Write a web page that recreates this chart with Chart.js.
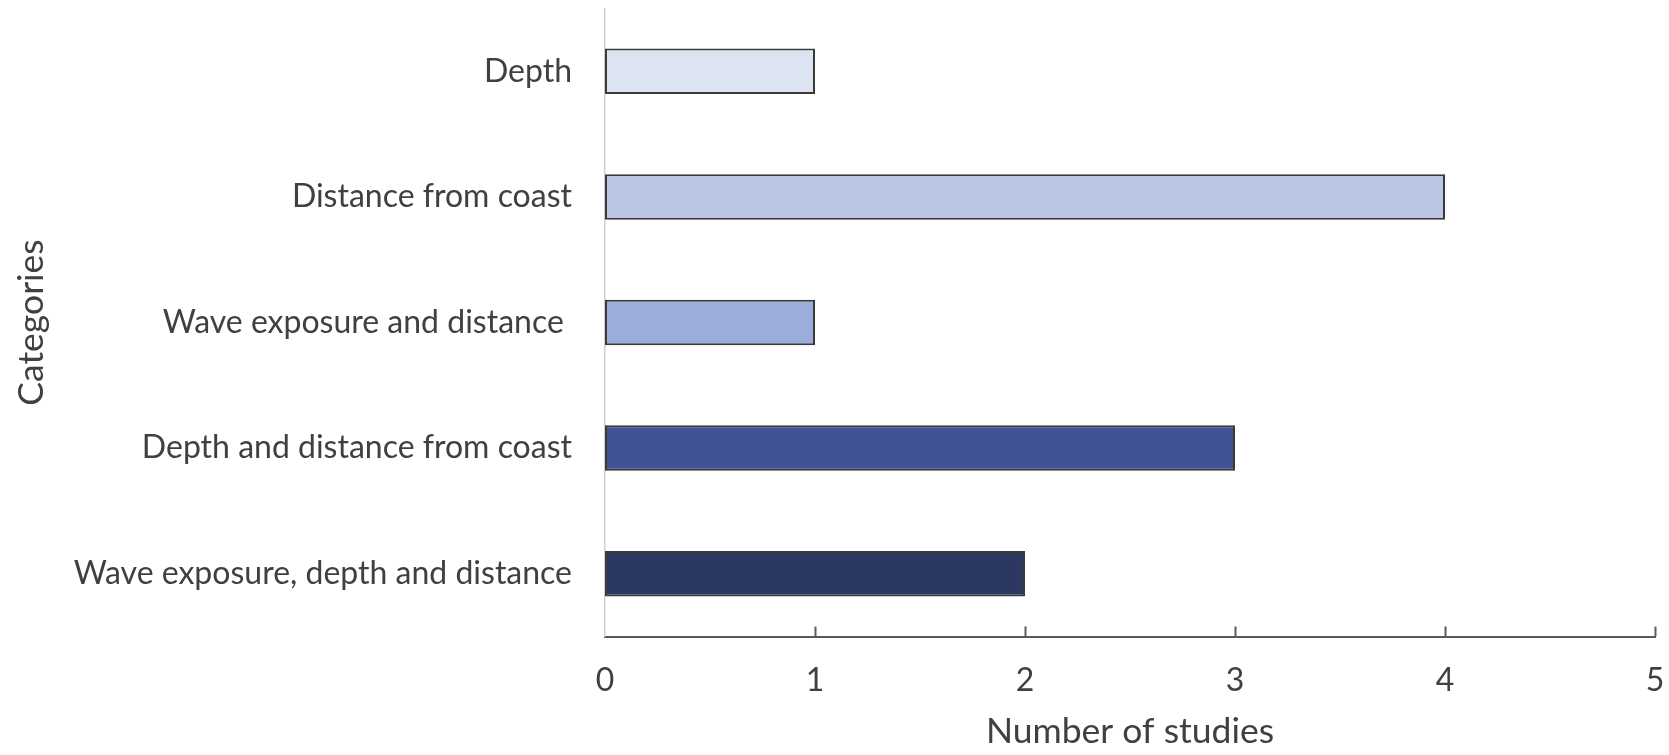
<!DOCTYPE html>
<html>
<head>
<meta charset="utf-8">
<script src="https://cdn.jsdelivr.net/npm/chart.js@4.4.1/dist/chart.umd.min.js"></script>
<style>
  html, body { margin: 0; padding: 0; background: #ffffff; }
  #wrap { width: 1669px; height: 755px; position: relative; }
</style>
</head>
<body>
<div id="wrap"><canvas id="chart"></canvas></div>
<script>
// Study counts per category of environmental gradient
const categories = [
  'Depth',
  'Distance from coast',
  'Wave exposure and distance ',
  'Depth and distance from coast',
  'Wave exposure, depth and distance'
];
const studyCounts = [1, 4, 1, 3, 2];
const xTicks = [0, 1, 2, 3, 4, 5];
const barColors = ['#dce3f1', '#bac6e3', '#9badda', '#3f5396', '#2b3862'];

const FONT = 'Lato, "Open Sans", sans-serif';
const TEXT = '#404040';

// Short upward tick marks on the value axis
const innerTicks = {
  id: 'innerTicks',
  afterDraw(chart) {
    const x = chart.scales.x;
    const ctx = chart.ctx;
    ctx.save();
    ctx.strokeStyle = '#5a5a5a';
    ctx.lineWidth = 2;
    xTicks.forEach(v => {
      if (v === 0) return;
      const px = Math.round(x.getPixelForValue(v)) + 0.5;
      ctx.beginPath();
      ctx.moveTo(px, x.top);
      ctx.lineTo(px, x.top - 10);
      ctx.stroke();
    });
    ctx.restore();
  }
};

new Chart(document.getElementById('chart'), {
  type: 'bar',
  data: {
    labels: categories,
    datasets: [{
      data: studyCounts,
      backgroundColor: barColors,
      borderColor: '#3a3a3a',
      borderWidth: 2,
      borderSkipped: false,
      categoryPercentage: 1,
      barPercentage: 0.362
    }]
  },
  options: {
    indexAxis: 'y',
    responsive: true,
    maintainAspectRatio: false,
    animation: false,
    layout: { padding: { left: 0, right: 14, top: 8.5, bottom: 0 } },
    plugins: {
      legend: { display: false },
      tooltip: { enabled: false }
    },
    scales: {
      x: {
        type: 'linear',
        min: 0,
        max: 5,
        afterBuildTicks(scale) { scale.ticks = xTicks.map(v => ({ value: v })); },
        afterFit(scale) {
          scale.height = 118.5;
          scale.paddingLeft = 0;
          scale.paddingRight = 0;
        },
        grid: { display: false, drawTicks: false },
        border: { display: true, color: '#5a5a5a', width: 2 },
        ticks: {
          color: TEXT,
          font: { family: FONT, size: 32 },
          padding: 25
        },
        title: {
          display: true,
          text: 'Number of studies',
          color: TEXT,
          font: { family: FONT, size: 35.5 },
          padding: { top: 0, bottom: 2 }
        }
      },
      y: {
        afterFit(scale) {
          scale.width = 605;
          scale.paddingTop = 0;
          scale.paddingBottom = 0;
        },
        grid: { display: false, drawTicks: false },
        border: { display: true, color: '#cfcfcf', width: 1.5 },
        ticks: {
          color: TEXT,
          font: { family: FONT, size: 32 },
          padding: 33
        },
        title: {
          display: true,
          text: 'Categories',
          color: TEXT,
          font: { family: FONT, size: 35.5 },
          padding: { top: 10, bottom: 0 }
        }
      }
    }
  },
  plugins: [innerTicks]
});
</script>
</body>
</html>
